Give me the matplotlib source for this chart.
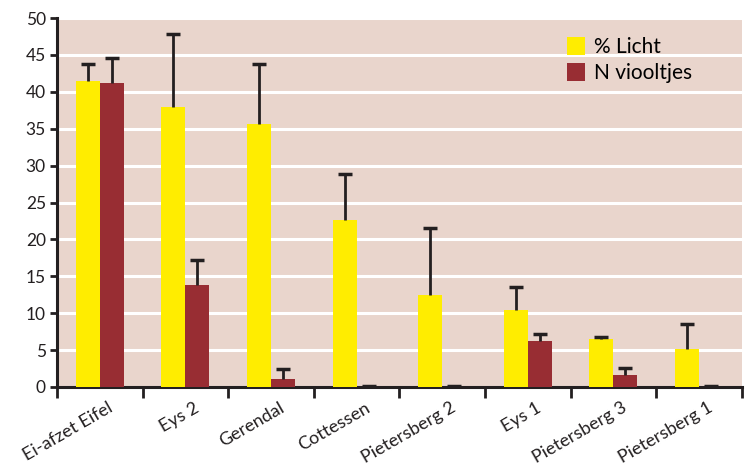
import numpy as np
import matplotlib.pyplot as plt
from matplotlib.transforms import ScaledTranslation

# gegevens
locaties = ["Ei-afzet Eifel", "Eys 2", "Gerendal", "Cottessen",
            "Pietersberg 2", "Eys 1", "Pietersberg 3", "Pietersberg 1"]
licht = [41.5, 37.9, 35.6, 22.6, 12.5, 10.4, 6.5, 5.1]
licht_fout = [2.3, 10.0, 8.2, 6.3, 9.1, 3.2, 0.3, 3.4]
viooltjes = [41.2, 13.8, 1.1, 0.0, 0.0, 6.2, 1.6, 0.0]
viooltjes_fout = [3.4, 3.4, 1.3, 0.15, 0.15, 1.0, 1.0, 0.15]

geel = "#FFED00"
rood = "#982D33"
achtergrond = "#E9D5CC"
donker = "#231F20"

plt.rcParams['font.family'] = ['Lato', 'DejaVu Sans']

fig = plt.figure(figsize=(7.5, 4.7), dpi=100)
ax = fig.add_axes([0.076, 0.1766, 0.913, 0.785])
ax.set_facecolor(achtergrond)

x = np.arange(len(locaties)) + 0.5
w = 0.28
ax.bar(x - w / 2, licht, w, color=geel, label="% Licht", zorder=3)
ax.bar(x + w / 2, viooltjes, w, color=rood, label="N viooltjes", zorder=3)

# alleen foutbalken naar boven
for xs, ys, fout in [(x - w / 2, licht, licht_fout),
                     (x + w / 2, viooltjes, viooltjes_fout)]:
    _, caps, _ = ax.errorbar(xs, ys, yerr=[np.zeros(len(ys)), fout], fmt="none",
                             ecolor=donker, elinewidth=2, capsize=5,
                             capthick=2.5, zorder=4)
    caps[0].set_visible(False)

ax.set_xlim(0, len(locaties))
ax.set_ylim(0, 50)
ax.set_yticks(np.arange(0, 51, 5))
ax.yaxis.grid(True, color="white", linewidth=2.2, zorder=1)
ax.set_axisbelow(True)

# x-as: streepjes op de groepsgrenzen, labels in het midden
ax.set_xticks(np.arange(len(locaties) + 1))
ax.set_xticklabels([])
ax.set_xticks(x, minor=True)
ax.set_xticklabels(locaties, minor=True, rotation=30, ha="right", va="top",
                   rotation_mode="anchor", fontsize=13, color=donker)
ax.tick_params(axis="x", which="minor", length=0, pad=9)
ax.tick_params(axis="x", which="major", length=8, width=2, color=donker)
ax.tick_params(axis="y", length=5, width=2, color=donker, labelsize=12.5,
               labelcolor=donker, pad=3)
verschuiving = ScaledTranslation(0.08, 0, fig.dpi_scale_trans)
for lab in ax.get_xticklabels(minor=True):
    lab.set_transform(lab.get_transform() + verschuiving)

for kant in ["top", "right"]:
    ax.spines[kant].set_visible(False)
for kant in ["left", "bottom"]:
    ax.spines[kant].set_linewidth(2.2)
    ax.spines[kant].set_color(donker)

ax.legend(loc="upper right", bbox_to_anchor=(0.955, 1.0), frameon=False,
          fontsize=15, handlelength=0.85, handleheight=0.95,
          handletextpad=0.45, labelspacing=0.3)

fig.savefig("out.png", dpi=100, facecolor="white")
